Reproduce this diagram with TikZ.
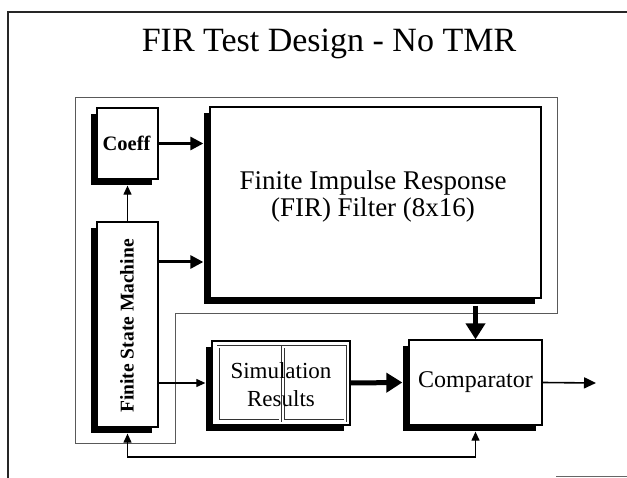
\documentclass[tikz,border=0pt]{standalone}
\usepackage{fontspec}
\setmainfont{Liberation Serif}
\usetikzlibrary{arrows.meta,shadows,calc}
\begin{document}
\begin{tikzpicture}[x=1pt,y=-1pt,
  box/.style={draw=black, line width=1.3pt, fill=white, inner sep=0pt,
    drop shadow={shadow xshift=-6pt, shadow yshift=-6pt, fill=black, opacity=1}},
  thinarrow/.style={line width=1.2pt, -{Triangle[length=9pt,width=8pt]}},
  thinboth/.style={line width=1.2pt, {Triangle[length=9pt,width=8pt]}-{Triangle[length=9pt,width=8pt]}},
  medarrow/.style={line width=3pt, -{Triangle[length=13pt,width=13pt]}},
  bigarrow/.style={line width=5pt, -{Triangle[length=16pt,width=19pt]}},
  outarrow/.style={line width=1.6pt, -{Triangle[length=12pt,width=11pt]}},
  frameline/.style={line width=2pt, black!85},
  region/.style={draw=black!65, line width=0.9pt},
  simpage/.style={draw=black!80, line width=0.8pt, double, double distance=1.4pt}
]
\useasboundingbox (0,0) rectangle (627,478);

% slide frame
\draw[frameline] (7,12) -- (627,12);
\draw[frameline] (8,12) -- (8,478);
\draw[black!60, line width=1pt] (556,476) -- (627,476);

% title
\node[font=\fontsize{34}{40}\selectfont] (title) at (329,44) {FIR Test Design - No TMR};

% gray region outline
\draw[region] (75,97) -- (557,97) -- (557,313) -- (175,313) -- (175,443) -- (75,443) -- cycle;

% boxes
\node[box, minimum width=61pt, minimum height=71pt] (coeff) at (127.5,143.5) {};
\node[font=\bfseries\fontsize{20.5}{24}\selectfont] (coefft) at (126.5,143) {Coeff};

\node[box, minimum width=61pt, minimum height=205pt] (fsm) at (127.5,324.5) {};
\node[font=\bfseries\fontsize{19.5}{24}\selectfont, rotate=90] (fsmt) at (127,326) {Finite State Machine};

\node[box, minimum width=331pt, minimum height=191pt] (fir) at (375.5,202.5) {};
\node[align=center, font=\fontsize{27}{27}\selectfont] (firt) at (373,197)
      {Finite Impulse Response\\(FIR) Filter (8x16)};

\node[box, minimum width=138pt, minimum height=84pt] (sim) at (281,383) {};
\draw[simpage] (218,347) rectangle (280,421);
\draw[simpage] (283,347) rectangle (345,421);
\node[align=center, font=\fontsize{23}{28}\selectfont] (simt) at (281,385) {Simulation\\Results};

\node[box, minimum width=133pt, minimum height=85pt,
      font=\fontsize{24}{28}\selectfont] (cmp) at (475.5,382.5) {Comparator};

% connectors
\coordinate (yfsmfir) at (0,262);
\coordinate (fbL) at (128,457);
\coordinate (out) at (596,383);

\draw[thinarrow] (fsm.north) -- ($(coeff.south)+(0,6)$);
\draw[medarrow] (coeff.east) -- ($(coeff.east -| fir.west)+(-6,0)$);
\draw[medarrow] (fsm.east |- yfsmfir) -- ($(fir.west |- yfsmfir)+(-6,0)$);
\draw[thinarrow] (fsm.east |- sim.west) -- ($(sim.west)+(-6,0)$);
\draw[bigarrow] (sim.east) -- ($(cmp.west)+(-6,0)$);
\draw[bigarrow] ($(cmp.north |- fir.south)+(0,7)$) -- (cmp.north);
\draw[outarrow] (cmp.east) -- (out);
\draw[thinboth] ($(fsm.south)+(0,6)$) -- (fsm.south |- fbL) -- (cmp.south |- fbL) -- ($(cmp.south)+(0,6)$);
\end{tikzpicture}
\end{document}
